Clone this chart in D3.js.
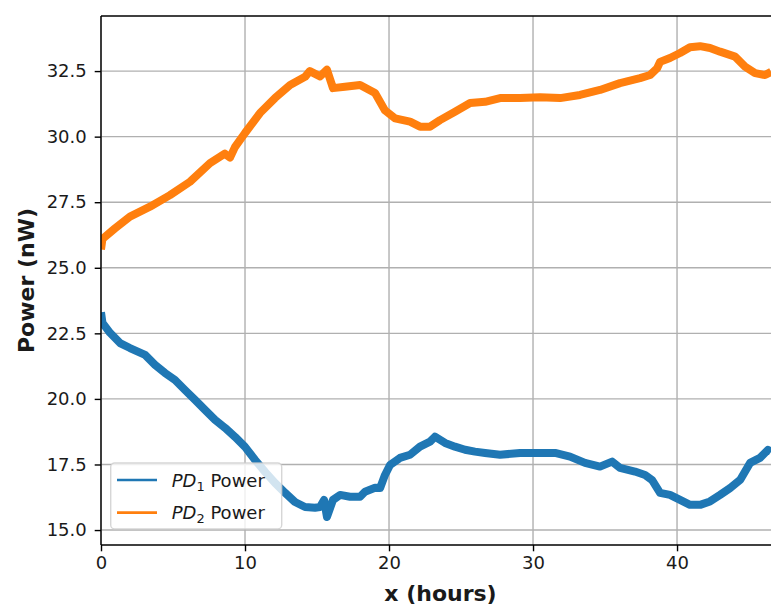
<!DOCTYPE html>
<html>
<head>
<meta charset="utf-8">
<script src="https://cdn.jsdelivr.net/npm/d3@7"></script>
<style>
  html, body { margin: 0; padding: 0; background: #ffffff; }
  svg { display: block; }
  text { font-family: "DejaVu Sans", sans-serif; fill: #1a1a1a; }
</style>
</head>
<body>
<svg id="chart" width="771" height="607"></svg>
<script>
// Photodiode power readings (nW) against elapsed time (hours)
const hoursPD1 = [0, 0.1, 0.625, 1.32, 2.01, 3.06, 3.75, 4.44, 5.14, 5.83, 6.53, 7.22, 7.92, 8.61, 9.31, 10.0,
  10.69, 11.39, 12.08, 12.78, 13.47, 14.17, 14.86, 15.21, 15.49, 15.69, 16.11, 16.6, 17.29, 17.99, 18.33,
  19.03, 19.38, 19.72, 20.07, 20.76, 21.46, 22.15, 22.85, 23.19, 23.89, 24.58, 25.28, 25.97, 26.67, 27.71,
  29.1, 30.49, 31.53, 32.57, 33.61, 34.65, 35.49, 36.04, 37.08, 37.78, 38.26, 38.82, 39.51, 40.21, 40.9,
  41.6, 42.29, 42.99, 43.68, 44.38, 45.07, 45.76, 46.32, 46.53];
const powerPD1 = [23.3, 22.9, 22.52, 22.13, 21.94, 21.68, 21.3, 20.99, 20.72, 20.34, 19.96, 19.58, 19.2, 18.9, 18.55, 18.17,
  17.68, 17.22, 16.8, 16.42, 16.07, 15.88, 15.85, 15.88, 16.15, 15.5, 16.15, 16.34, 16.27, 16.27, 16.46,
  16.61, 16.6, 17.1, 17.48, 17.75, 17.87, 18.18, 18.37, 18.56, 18.32, 18.18, 18.06, 17.99, 17.94, 17.87,
  17.94, 17.94, 17.94, 17.8, 17.56, 17.42, 17.61, 17.37, 17.23, 17.1, 16.91, 16.42, 16.34, 16.15, 15.96,
  15.96, 16.09, 16.34, 16.6, 16.91, 17.56, 17.75, 18.06, 17.99];

const hoursPD2 = [0, 0.1, 0.97, 2.01, 3.40, 4.79, 6.18, 7.57, 8.6, 8.96, 9.3, 10.0, 11.04, 12.08, 13.13, 14.17,
  14.5, 15.21, 15.69, 16.11, 16.94, 17.99, 19.03, 19.72, 20.42, 21.46, 22.15, 22.85, 23.54, 24.58, 25.63,
  26.67, 27.71, 29.1, 30.49, 31.88, 33.26, 34.65, 36.04, 37.43, 38.13, 38.61, 38.82, 39.51, 40.21, 40.9,
  41.6, 42.29, 42.99, 44.03, 44.72, 45.42, 46.11, 46.53];
const powerPD2 = [25.7, 26.1, 26.5, 26.95, 27.33, 27.77, 28.28, 28.99, 29.35, 29.2, 29.6, 30.14, 30.9, 31.47, 31.97, 32.28,
  32.5, 32.3, 32.55, 31.85, 31.9, 31.97, 31.66, 31.0, 30.7, 30.57, 30.38, 30.38, 30.63, 30.95, 31.28,
  31.33, 31.47, 31.47, 31.5, 31.47, 31.59, 31.78, 32.04, 32.23, 32.35, 32.6, 32.85, 33.0, 33.19, 33.41,
  33.45, 33.38, 33.24, 33.05, 32.67, 32.42, 32.35, 32.47];

const xTicks = [0, 10, 20, 30, 40];
const yTicks = [15.0, 17.5, 20.0, 22.5, 25.0, 27.5, 30.0, 32.5];
const seriesNames = ["PD1", "PD2"];
const seriesSubscripts = ["1", "2"];
const seriesColors = ["#1f77b4", "#ff7f0e"];

const svg = d3.select("#chart");
const plot = { left: 101, right: 780, top: 16, bottom: 545 };

const x = d3.scaleLinear().domain([0, 47.15]).range([plot.left, plot.right]);
const y = d3.scaleLinear().domain([14.43, 34.6]).range([plot.bottom, plot.top]);

svg.append("defs").append("clipPath").attr("id", "plot-clip")
  .append("rect")
  .attr("x", plot.left).attr("y", plot.top)
  .attr("width", plot.right - plot.left).attr("height", plot.bottom - plot.top);

// Grid lines
const grid = svg.append("g").attr("class", "grid");
grid.selectAll("line.gx").data(xTicks).enter().append("line")
  .attr("x1", d => x(d)).attr("x2", d => x(d))
  .attr("y1", plot.top).attr("y2", plot.bottom)
  .attr("stroke", "#b0b0b0").attr("stroke-width", 1.4);
grid.selectAll("line.gy").data(yTicks).enter().append("line")
  .attr("x1", plot.left).attr("x2", plot.right)
  .attr("y1", d => y(d)).attr("y2", d => y(d))
  .attr("stroke", "#b0b0b0").attr("stroke-width", 1.4);

// Series lines (wide stroke stands in for the measurement noise band)
const line = d3.line().x(d => x(d[0])).y(d => y(d[1]));
const series = [
  d3.zip(hoursPD1, powerPD1),
  d3.zip(hoursPD2, powerPD2)
];
const lines = svg.append("g").attr("clip-path", "url(#plot-clip)");
series.forEach((pts, i) => {
  lines.append("path")
    .datum(pts)
    .attr("d", line)
    .attr("fill", "none")
    .attr("stroke", seriesColors[i])
    .attr("stroke-width", 8)
    .attr("stroke-linejoin", "round")
    .attr("stroke-linecap", "butt");
});

// Axes
const xAxis = d3.axisBottom(x).tickValues(xTicks).tickFormat(d3.format("d"))
  .tickSize(6.3).tickPadding(5);
const yAxis = d3.axisLeft(y).tickValues(yTicks).tickFormat(d3.format(".1f"))
  .tickSize(6.3).tickPadding(8);

const gx = svg.append("g").attr("transform", `translate(0,${plot.bottom})`).call(xAxis);
const gy = svg.append("g").attr("transform", `translate(${plot.left},0)`).call(yAxis);
[gx, gy].forEach(g => {
  g.select(".domain").remove();
  g.selectAll(".tick line").attr("stroke", "#000").attr("stroke-width", 1.4);
  g.selectAll(".tick text").attr("font-size", 18).attr("font-family", "DejaVu Sans").attr("fill", "#1a1a1a");
});

// Spines (left, bottom, top)
svg.append("line").attr("x1", plot.left).attr("x2", plot.left).attr("y1", plot.top).attr("y2", plot.bottom)
  .attr("stroke", "#000").attr("stroke-width", 1.4);
svg.append("line").attr("x1", plot.left).attr("x2", plot.right).attr("y1", plot.bottom).attr("y2", plot.bottom)
  .attr("stroke", "#000").attr("stroke-width", 1.4);
svg.append("line").attr("x1", plot.left).attr("x2", plot.right).attr("y1", plot.top).attr("y2", plot.top)
  .attr("stroke", "#000").attr("stroke-width", 1.4);

// Axis titles
svg.append("text")
  .attr("x", (plot.left + plot.right) / 2).attr("y", 601)
  .attr("text-anchor", "middle").attr("font-size", 22).attr("font-weight", "bold")
  .text("x (hours)");
svg.append("text")
  .attr("transform", `translate(33.5,${(plot.top + plot.bottom) / 2}) rotate(-90)`)
  .attr("text-anchor", "middle").attr("font-size", 22).attr("font-weight", "bold")
  .text("Power (nW)");

// Legend
const legend = svg.append("g");
legend.append("rect")
  .attr("x", 110.7).attr("y", 463).attr("width", 171).attr("height", 66).attr("rx", 4)
  .attr("fill", "rgba(255,255,255,0.8)").attr("stroke", "rgba(204,204,204,0.8)").attr("stroke-width", 1.4);
seriesNames.forEach((name, i) => {
  const cy = 480 + i * 32.7;
  legend.append("line")
    .attr("x1", 117).attr("x2", 157).attr("y1", cy).attr("y2", cy)
    .attr("stroke", seriesColors[i]).attr("stroke-width", 2.7);
  const t = legend.append("text").attr("x", 171.7).attr("y", cy + 6.5).attr("font-size", 18);
  t.append("tspan").attr("font-style", "italic").text("PD");
  t.append("tspan").attr("font-size", 13).attr("dy", 4).text(seriesSubscripts[i]);
  t.append("tspan").attr("dy", -4).text(" Power");
});
</script>
</body>
</html>
